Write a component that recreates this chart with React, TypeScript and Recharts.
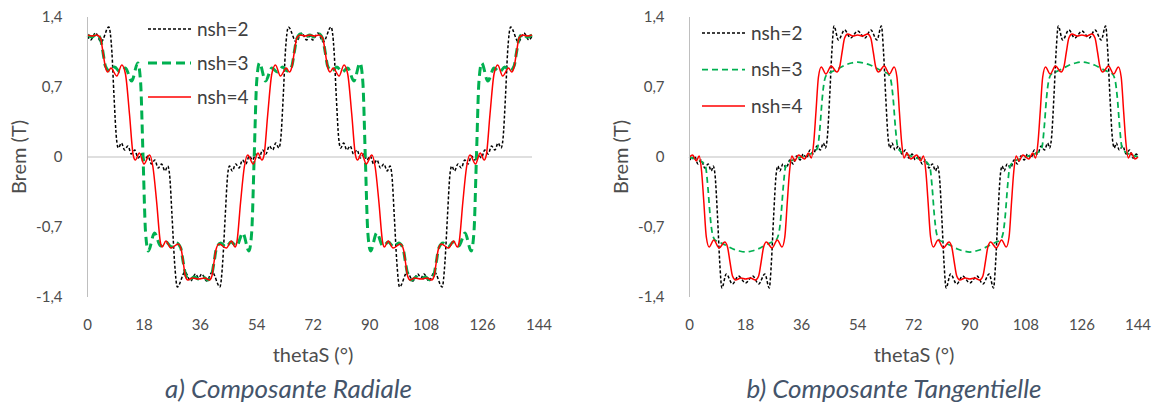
import React from 'react';
import { LineChart, Line, XAxis, YAxis, ReferenceLine, Legend } from 'recharts';

// ---------- shared ticks / labels ----------
const xTicks = [0, 18, 36, 54, 72, 90, 108, 126, 144];
const yTicks = [-1.4, -0.7, 0, 0.7, 1.4];
const seriesNames = ['nsh=2', 'nsh=3', 'nsh=4'];

// ---------- a) Composante Radiale ----------
const radN2X = [0, 1.0, 2.6, 4.4, 6.9, 7.9, 8.6, 9.4, 10.0, 11.0, 12.0, 13.1, 14.2, 15.3, 16.4, 17.5, 18.5, 19.6, 20.7, 21.8, 22.9, 24.0, 25.1, 26.0, 26.6, 27.4, 28.2, 29.1, 31.6, 33.4, 35.0, 36,
  37, 38.6, 40.4, 42.9, 43.8, 44.6, 45.4, 46, 46.9, 48, 49.1, 50.2, 51.3, 52.4, 53.5, 54.5, 55.6, 56.7, 57.8, 58.9, 60, 61, 62, 62.6, 63.4, 64.1, 65.1, 67.6, 69.4, 71, 72,
  73, 74.6, 76.4, 78.9, 79.9, 80.6, 81.4, 82, 83, 84, 85.1, 86.2, 87.3, 88.4, 89.5, 90.5, 91.6, 92.7, 93.8, 94.9, 96, 97.1, 98, 98.6, 99.4, 100.2, 101.1, 103.6, 105.4, 107, 108,
  109, 110.6, 112.4, 114.9, 115.8, 116.6, 117.4, 118, 118.9, 120, 121.1, 122.2, 123.3, 124.4, 125.5, 126.5, 127.6, 128.7, 129.8, 130.9, 132, 133, 134, 134.6, 135.4, 136.1, 137.1, 139.6, 141.4, 143, 144];
const radN2Y = [1.21, 1.17, 1.24, 1.15, 1.30, 1.05, 0.60, 0.18, 0.09, 0.14, 0.07, 0.11, 0.03, 0.07, -0.01, 0.03, -0.03, 0.01, -0.07, -0.03, -0.11, -0.07, -0.14, -0.09, -0.18, -0.60, -1.05, -1.30, -1.15, -1.24, -1.17, -1.21,
  -1.17, -1.24, -1.15, -1.30, -1.05, -0.60, -0.18, -0.09, -0.14, -0.07, -0.11, -0.03, -0.07, 0.01, -0.03, 0.03, -0.01, 0.07, 0.03, 0.11, 0.07, 0.14, 0.09, 0.18, 0.60, 1.05, 1.30, 1.15, 1.24, 1.17, 1.21,
  1.17, 1.24, 1.15, 1.30, 1.05, 0.60, 0.18, 0.09, 0.14, 0.07, 0.11, 0.03, 0.07, -0.01, 0.03, -0.03, 0.01, -0.07, -0.03, -0.11, -0.07, -0.14, -0.09, -0.18, -0.60, -1.05, -1.30, -1.15, -1.24, -1.17, -1.21,
  -1.17, -1.24, -1.15, -1.30, -1.05, -0.60, -0.18, -0.09, -0.14, -0.07, -0.11, -0.03, -0.07, 0.01, -0.03, 0.03, -0.01, 0.07, 0.03, 0.11, 0.07, 0.14, 0.09, 0.18, 0.60, 1.05, 1.30, 1.15, 1.24, 1.17, 1.21];

const radN3X = [0, 1.5, 3.0, 4.2, 5.0, 5.8, 7.2, 8.8, 10.5, 12.3, 14.3, 16.3, 17.2, 18, 18.8, 19.7, 21.7, 23.7, 25.5, 27.2, 28.8, 30.2, 31.0, 31.8, 33.0, 34.5, 36,
  37.5, 39, 40.2, 41, 41.8, 43.2, 44.8, 46.5, 48.3, 50.3, 52.3, 53.2, 54, 54.8, 55.7, 57.7, 59.7, 61.5, 63.2, 64.8, 66.2, 67, 67.8, 69, 70.5, 72,
  73.5, 75, 76.2, 77, 77.8, 79.2, 80.8, 82.5, 84.3, 86.3, 88.3, 89.2, 90, 90.8, 91.7, 93.7, 95.7, 97.5, 99.2, 100.8, 102.2, 103, 103.8, 105, 106.5, 108,
  109.5, 111, 112.2, 113, 113.8, 115.2, 116.8, 118.5, 120.3, 122.3, 124.3, 125.2, 126, 126.8, 127.7, 129.7, 131.7, 133.5, 135.2, 136.8, 138.2, 139, 139.8, 141, 142.5, 144];
const radN3Y = [1.22, 1.20, 1.23, 1.18, 1.05, 0.91, 0.86, 0.90, 0.85, 0.89, 0.76, 0.94, 0.75, 0, -0.75, -0.94, -0.76, -0.89, -0.85, -0.90, -0.86, -0.91, -1.05, -1.18, -1.23, -1.20, -1.22,
  -1.20, -1.23, -1.18, -1.05, -0.91, -0.86, -0.90, -0.85, -0.89, -0.76, -0.94, -0.75, 0, 0.75, 0.94, 0.76, 0.89, 0.85, 0.90, 0.86, 0.91, 1.05, 1.18, 1.23, 1.20, 1.22,
  1.20, 1.23, 1.18, 1.05, 0.91, 0.86, 0.90, 0.85, 0.89, 0.76, 0.94, 0.75, 0, -0.75, -0.94, -0.76, -0.89, -0.85, -0.90, -0.86, -0.91, -1.05, -1.18, -1.23, -1.20, -1.22,
  -1.20, -1.23, -1.18, -1.05, -0.91, -0.86, -0.90, -0.85, -0.89, -0.76, -0.94, -0.75, 0, 0.75, 0.94, 0.76, 0.89, 0.85, 0.90, 0.86, 0.91, 1.05, 1.18, 1.23, 1.20, 1.22];

const radN4X = [0, 1.5, 3, 4.2, 5.0, 5.8, 6.6, 7.6, 9.5, 11.1, 12.3, 13.6, 14.8, 15.5, 16.8, 18.3, 20.1, 21.2, 22.4, 23.6, 24.2, 25.4, 27.0, 29.4, 30.4, 31.0, 31.7, 32.5, 34, 36,
  38, 39.5, 40.3, 41, 41.6, 42.6, 45, 46.6, 47.8, 48.4, 49.6, 50.8, 51.9, 53.7, 55.2, 56.5, 57.2, 58.4, 59.7, 60.9, 62.5, 64.4, 65.4, 66.2, 67, 67.8, 69, 70.5, 72,
  73.5, 75, 76.2, 77, 77.8, 78.6, 79.6, 81.5, 83.1, 84.3, 85.6, 86.8, 87.5, 88.8, 90.3, 92.1, 93.2, 94.4, 95.6, 96.2, 97.4, 99, 101.4, 102.4, 103, 103.7, 104.5, 106, 108,
  110, 111.5, 112.3, 113, 113.6, 114.6, 117, 118.6, 119.8, 120.4, 121.6, 122.8, 123.9, 125.7, 127.2, 128.5, 129.2, 130.4, 131.7, 132.9, 134.5, 136.4, 137.4, 138.2, 139, 139.8, 141, 142.5, 144];
const radN4Y = [1.22, 1.21, 1.22, 1.19, 1.05, 0.90, 0.85, 0.89, 0.81, 0.92, 0.83, 0.43, 0.02, -0.03, 0.04, -0.07, 0.02, -0.10, -0.45, -0.85, -0.90, -0.84, -0.91, -0.87, -0.93, -1.05, -1.19, -1.23, -1.21, -1.22,
  -1.21, -1.23, -1.19, -1.05, -0.93, -0.87, -0.91, -0.84, -0.90, -0.85, -0.45, -0.10, 0.02, -0.07, 0.04, -0.03, 0.02, 0.43, 0.83, 0.92, 0.81, 0.89, 0.85, 0.90, 1.05, 1.19, 1.22, 1.21, 1.22,
  1.21, 1.22, 1.19, 1.05, 0.90, 0.85, 0.89, 0.81, 0.92, 0.83, 0.43, 0.02, -0.03, 0.04, -0.07, 0.02, -0.10, -0.45, -0.85, -0.90, -0.84, -0.91, -0.87, -0.93, -1.05, -1.19, -1.23, -1.21, -1.22,
  -1.21, -1.23, -1.19, -1.05, -0.93, -0.87, -0.91, -0.84, -0.90, -0.85, -0.45, -0.10, 0.02, -0.07, 0.04, -0.03, 0.02, 0.43, 0.83, 0.92, 0.81, 0.89, 0.85, 0.90, 1.05, 1.19, 1.22, 1.21, 1.22];

// ---------- b) Composante Tangentielle ----------
const tanN2X = [0, 0.5, 1.6, 2.7, 3.8, 4.9, 6.0, 7.0, 7.6, 8.2, 9.0, 9.7, 10.4, 11.8, 13.8, 15.7, 18, 20.3, 22.2, 24.2, 25.6, 26.3, 27.0, 27.8, 28.4, 29.0, 30.0, 31.1, 32.2, 33.3, 34.4, 35.5, 36,
  36.5, 37.6, 38.7, 39.8, 40.9, 42, 43, 43.6, 44.2, 45, 45.7, 46.4, 47.8, 49.8, 51.7, 54, 56.3, 58.2, 60.2, 61.6, 62.3, 63, 63.8, 64.4, 65, 66, 67.1, 68.2, 69.3, 70.4, 71.5, 72,
  72.5, 73.6, 74.7, 75.8, 76.9, 78, 79, 79.6, 80.2, 81, 81.7, 82.4, 83.8, 85.8, 87.7, 90, 92.3, 94.2, 96.2, 97.6, 98.3, 99, 99.8, 100.4, 101, 102, 103.1, 104.2, 105.3, 106.4, 107.5, 108,
  108.5, 109.6, 110.7, 111.8, 112.9, 114, 115, 115.6, 116.2, 117, 117.7, 118.4, 119.8, 121.8, 123.7, 126, 128.3, 130.2, 132.2, 133.6, 134.3, 135, 135.8, 136.4, 137, 138, 139.1, 140.2, 141.3, 142.4, 143.5, 144];
const tanN2Y = [0, -0.03, 0.01, -0.07, -0.03, -0.11, -0.07, -0.14, -0.09, -0.18, -0.60, -1.05, -1.31, -1.17, -1.27, -1.19, -1.26, -1.19, -1.27, -1.17, -1.31, -1.05, -0.60, -0.18, -0.09, -0.14, -0.07, -0.11, -0.03, -0.07, 0.01, -0.03, 0,
  0.03, -0.01, 0.07, 0.03, 0.11, 0.07, 0.14, 0.09, 0.18, 0.60, 1.05, 1.31, 1.17, 1.27, 1.19, 1.26, 1.19, 1.27, 1.17, 1.31, 1.05, 0.60, 0.18, 0.09, 0.14, 0.07, 0.11, 0.03, 0.07, -0.01, 0.03, 0,
  -0.03, 0.01, -0.07, -0.03, -0.11, -0.07, -0.14, -0.09, -0.18, -0.60, -1.05, -1.31, -1.17, -1.27, -1.19, -1.26, -1.19, -1.27, -1.17, -1.31, -1.05, -0.60, -0.18, -0.09, -0.14, -0.07, -0.11, -0.03, -0.07, 0.01, -0.03, 0,
  0.03, -0.01, 0.07, 0.03, 0.11, 0.07, 0.14, 0.09, 0.18, 0.60, 1.05, 1.31, 1.17, 1.27, 1.19, 1.26, 1.19, 1.27, 1.17, 1.31, 1.05, 0.60, 0.18, 0.09, 0.14, 0.07, 0.11, 0.03, 0.07, -0.01, 0.03, 0];

const tanN3X = [0, 1.8, 3.5, 5.1, 5.9, 6.6, 7.3, 8.2, 9.5, 11.5, 14, 16, 18, 20, 22, 24.5, 26.5, 27.8, 28.7, 29.4, 30.1, 30.9, 32.5, 34.2, 36,
  37.8, 39.5, 41.1, 41.9, 42.6, 43.3, 44.2, 45.5, 47.5, 50, 52, 54, 56, 58, 60.5, 62.5, 63.8, 64.7, 65.4, 66.1, 66.9, 68.5, 70.2, 72,
  73.8, 75.5, 77.1, 77.9, 78.6, 79.3, 80.2, 81.5, 83.5, 86, 88, 90, 92, 94, 96.5, 98.5, 99.8, 100.7, 101.4, 102.1, 102.9, 104.5, 106.2, 108,
  109.8, 111.5, 113.1, 113.9, 114.6, 115.3, 116.2, 117.5, 119.5, 122, 124, 126, 128, 130, 132.5, 134.5, 135.8, 136.7, 137.4, 138.1, 138.9, 140.5, 142.2, 144];
const tanN3Y = [0, -0.02, -0.04, -0.09, -0.30, -0.58, -0.76, -0.83, -0.85, -0.88, -0.92, -0.94, -0.95, -0.94, -0.92, -0.88, -0.85, -0.83, -0.76, -0.58, -0.30, -0.09, -0.04, -0.02, 0,
  0.02, 0.04, 0.09, 0.30, 0.58, 0.76, 0.83, 0.85, 0.88, 0.92, 0.94, 0.95, 0.94, 0.92, 0.88, 0.85, 0.83, 0.76, 0.58, 0.30, 0.09, 0.04, 0.02, 0,
  -0.02, -0.04, -0.09, -0.30, -0.58, -0.76, -0.83, -0.85, -0.88, -0.92, -0.94, -0.95, -0.94, -0.92, -0.88, -0.85, -0.83, -0.76, -0.58, -0.30, -0.09, -0.04, -0.02, 0,
  0.02, 0.04, 0.09, 0.30, 0.58, 0.76, 0.83, 0.85, 0.88, 0.92, 0.94, 0.95, 0.94, 0.92, 0.88, 0.85, 0.83, 0.76, 0.58, 0.30, 0.09, 0.04, 0.02, 0];

const tanN4X = [0, 1.0, 2.2, 3.1, 3.9, 4.6, 5.4, 6.3, 7.8, 9.5, 11.3, 12.2, 13.0, 13.8, 14.8, 16.5, 18, 19.5, 21.2, 22.2, 23.0, 23.8, 24.7, 26.5, 28.2, 29.7, 30.6, 31.4, 32.1, 32.9, 33.8, 35.0, 36,
  37, 38.2, 39.1, 39.9, 40.6, 41.4, 42.3, 43.8, 45.5, 47.3, 48.2, 49, 49.8, 50.8, 52.5, 54, 55.5, 57.2, 58.2, 59, 59.8, 60.7, 62.5, 64.2, 65.7, 66.6, 67.4, 68.1, 68.9, 69.8, 71, 72,
  73, 74.2, 75.1, 75.9, 76.6, 77.4, 78.3, 79.8, 81.5, 83.3, 84.2, 85, 85.8, 86.8, 88.5, 90, 91.5, 93.2, 94.2, 95, 95.8, 96.7, 98.5, 100.2, 101.7, 102.6, 103.4, 104.1, 104.9, 105.8, 107, 108,
  109, 110.2, 111.1, 111.9, 112.6, 113.4, 114.3, 115.8, 117.5, 119.3, 120.2, 121, 121.8, 122.8, 124.5, 126, 127.5, 129.2, 130.2, 131, 131.8, 132.7, 134.5, 136.2, 137.7, 138.6, 139.4, 140.1, 140.9, 141.8, 143, 144];
const tanN4Y = [0, 0.02, -0.04, 0.01, -0.15, -0.45, -0.80, -0.90, -0.83, -0.91, -0.85, -0.90, -1.05, -1.19, -1.23, -1.21, -1.22, -1.21, -1.23, -1.19, -1.05, -0.90, -0.85, -0.91, -0.83, -0.90, -0.80, -0.45, -0.15, 0.01, -0.04, 0.02, 0,
  -0.02, 0.04, -0.01, 0.15, 0.45, 0.80, 0.90, 0.83, 0.91, 0.85, 0.90, 1.05, 1.19, 1.23, 1.21, 1.22, 1.21, 1.23, 1.19, 1.05, 0.90, 0.85, 0.91, 0.83, 0.90, 0.80, 0.45, 0.15, -0.01, 0.04, -0.02, 0,
  0.02, -0.04, 0.01, -0.15, -0.45, -0.80, -0.90, -0.83, -0.91, -0.85, -0.90, -1.05, -1.19, -1.23, -1.21, -1.22, -1.21, -1.23, -1.19, -1.05, -0.90, -0.85, -0.91, -0.83, -0.90, -0.80, -0.45, -0.15, 0.01, -0.04, 0.02, 0,
  -0.02, 0.04, -0.01, 0.15, 0.45, 0.80, 0.90, 0.83, 0.91, 0.85, 0.90, 1.05, 1.19, 1.23, 1.21, 1.22, 1.21, 1.23, 1.19, 1.05, 0.90, 0.85, 0.91, 0.83, 0.90, 0.80, 0.45, 0.15, -0.01, 0.04, -0.02, 0];

// ---------- helpers ----------
const pts = (xs: number[], ys: number[]) => {
  const n = Math.min(xs.length, ys.length);
  return xs.slice(0, n).map((x, i) => ({ x, y: ys[i] }));
};
const FONT = 'Lato, "Liberation Sans", sans-serif';
const TXT = '#595959';
const AXIS = '#BFBFBF';
const fmt = (v: number) => (v === 0 ? '0' : v.toFixed(1).replace('.', ','));

type Sty = { name: string; color: string; width: number; dash?: string };

const LegendBox = ({ styles, gap, lineW, textX, fontSize }: { styles: Sty[]; gap: number; lineW: number; textX: number; fontSize: number }) => (
  <svg width={textX + 70} height={gap * styles.length + 4} style={{ display: 'block', overflow: 'visible' }}>
    {styles.map((s, i) => (
      <g key={s.name} transform={`translate(0, ${i * gap + 12})`}>
        <line x1={0} x2={lineW} y1={0} y2={0} stroke={s.color} strokeWidth={s.width} strokeDasharray={s.dash} />
        <text x={textX} y={0} dy="0.35em" fontSize={fontSize} fill="#404040" fontFamily={FONT}>{s.name}</text>
      </g>
    ))}
  </svg>
);

const radialStyles: Sty[] = [
  { name: seriesNames[0], color: '#000000', width: 1.5, dash: '3 2' },
  { name: seriesNames[1], color: '#00B050', width: 3, dash: '9 5' },
  { name: seriesNames[2], color: '#FF0000', width: 1.5 },
];
const tangStyles: Sty[] = [
  { name: seriesNames[0], color: '#000000', width: 1.5, dash: '3 2' },
  { name: seriesNames[1], color: '#00B050', width: 1.75, dash: '6 4' },
  { name: seriesNames[2], color: '#FF0000', width: 1.5 },
];

const radialData = [pts(radN2X, radN2Y), pts(radN3X, radN3Y), pts(radN4X, radN4Y)];
const tangData = [pts(tanN2X, tanN2Y), pts(tanN3X, tanN3Y), pts(tanN4X, tanN4Y)];
// category positions carried by the label axis (no visible mark)
const tickCarrier = xTicks.map((x) => ({ x, y: null as number | null }));

const tickStyle = { fontSize: 15, fill: '#4D4D4D', fontFamily: FONT };

function Panel(props: {
  width: number; marginLeft: number; marginRight: number; dataPadRight: number;
  styles: Sty[]; data: { x: number; y: number }[][]; legendLeft: number; legendTop: number; legendGap: number;
}) {
  const { width, marginLeft, marginRight, dataPadRight, styles, data, legendLeft, legendTop, legendGap } = props;
  return (
    <LineChart width={width} height={408} margin={{ top: 17, right: marginRight, bottom: 81, left: marginLeft }}>
      <XAxis xAxisId="data" type="number" dataKey="x" domain={[0, 144]} hide height={0} padding={{ left: 0, right: dataPadRight }} />
      <XAxis xAxisId="lab" type="number" dataKey="x" domain={[0, 144]} ticks={xTicks} height={30} axisLine={false} tickLine={false}
        tickSize={0} tickMargin={22} tick={tickStyle} interval={0} />
      <YAxis type="number" domain={[-1.4, 1.4]} ticks={yTicks} tickFormatter={fmt} width={60} axisLine={{ stroke: AXIS, strokeWidth: 1 }}
        tickLine={false} tickSize={0} tickMargin={25} tick={tickStyle} interval={0} />
      <ReferenceLine xAxisId="data" segment={[{ x: 0, y: 0 }, { x: 144, y: 0 }]} stroke={AXIS} strokeWidth={1} />
      <Line xAxisId="lab" data={tickCarrier} dataKey="y" stroke="none" dot={false} activeDot={false}
        legendType="none" isAnimationActive={false} />
      {data.map((d, i) => (
        <Line key={styles[i].name} xAxisId="data" data={d} dataKey="y" type="monotone" name={styles[i].name}
          stroke={styles[i].color} strokeWidth={styles[i].width} strokeDasharray={styles[i].dash}
          dot={false} activeDot={false} isAnimationActive={false} />
      ))}
      <Legend layout="vertical" align="center" verticalAlign="middle"
        wrapperStyle={{ left: legendLeft, top: legendTop, width: 'auto' }}
        content={() => <LegendBox styles={styles} gap={legendGap} lineW={43} textX={49} fontSize={19} />} />
    </LineChart>
  );
}

const absText = (cx: number, cy: number, rot: number, style: React.CSSProperties): React.CSSProperties => ({
  position: 'absolute', left: cx, top: cy, transform: `translate(-50%, -50%) rotate(${rot}deg)`, whiteSpace: 'nowrap', ...style,
});

export default function App() {
  const titleStyle = { fontFamily: FONT, fontSize: 20, color: '#4D4D4D' };
  const capStyle = { fontFamily: FONT, fontSize: 26, fontStyle: 'italic' as const, color: '#44546A' };
  return (
    <div style={{ position: 'absolute', left: 0, top: 0, width: 1159, height: 408, background: '#ffffff', overflow: 'hidden' }}>
      <div style={{ position: 'absolute', left: 0, top: 0 }}>
        <Panel width={580} marginLeft={27.5} marginRight={41} dataPadRight={7} styles={radialStyles} data={radialData}
          legendLeft={148} legendTop={17} legendGap={34} />
      </div>
      <div style={{ position: 'absolute', left: 580, top: 0 }}>
        <Panel width={579} marginLeft={49.5} marginRight={21} dataPadRight={0} styles={tangStyles} data={tangData}
          legendLeft={122} legendTop={21} legendGap={36.5} />
      </div>
      <div style={absText(18, 157, -90, titleStyle)}>Brem (T)</div>
      <div style={absText(620, 157, -90, titleStyle)}>Brem (T)</div>
      <div style={absText(313, 354, 0, titleStyle)}>thetaS (°)</div>
      <div style={absText(914, 354, 0, titleStyle)}>thetaS (°)</div>
      <div style={absText(288.5, 388, 0, capStyle)}>a) Composante Radiale</div>
      <div style={absText(894, 388, 0, capStyle)}>b) Composante Tangentielle</div>
    </div>
  );
}
